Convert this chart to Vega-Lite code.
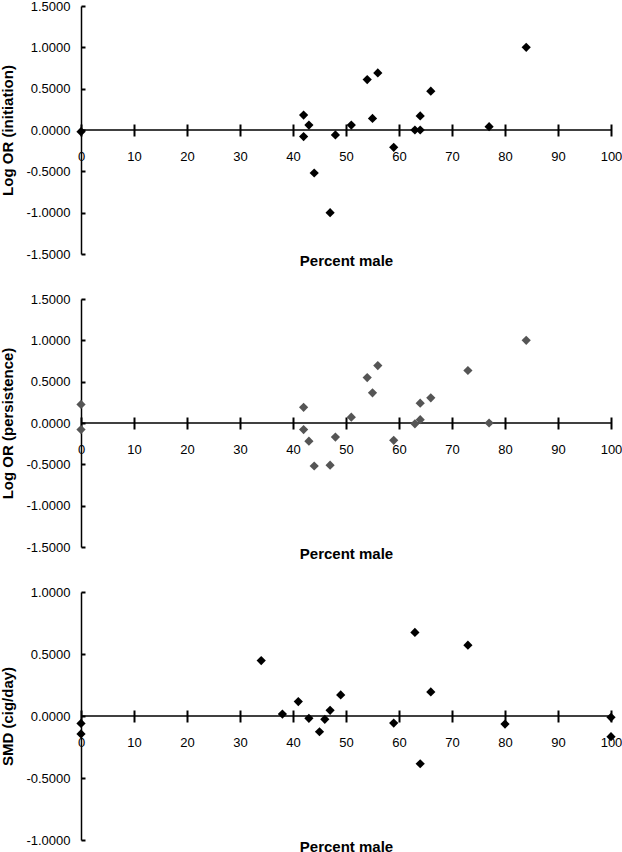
{
  "$schema": "https://vega.github.io/schema/vega-lite/v6.json",
  "padding": {"left": 0, "top": 0, "right": 0, "bottom": 0},
  "background": "white",
  "spacing": 45,
  "bounds": "flush",
  "config": {
    "view": {"stroke": null},
    "font": "Liberation Sans",
    "axis": {
      "labelFont": "Liberation Sans",
      "titleFont": "Liberation Sans",
      "labelFontSize": 13,
      "titleFontSize": 15,
      "titleFontWeight": "bold",
      "labelColor": "black",
      "titleColor": "black",
      "grid": false
    }
  },
  "datasets": {
    "initiation": [
      {"pct": 0, "value": -0.02}, {"pct": 42, "value": 0.18}, {"pct": 42, "value": -0.08},
      {"pct": 43, "value": 0.06}, {"pct": 44, "value": -0.52}, {"pct": 47, "value": -1.0},
      {"pct": 48, "value": -0.06}, {"pct": 51, "value": 0.06}, {"pct": 54, "value": 0.61},
      {"pct": 55, "value": 0.14}, {"pct": 56, "value": 0.69}, {"pct": 59, "value": -0.21},
      {"pct": 63, "value": 0.0}, {"pct": 64, "value": 0.0}, {"pct": 64, "value": 0.17},
      {"pct": 66, "value": 0.47}, {"pct": 77, "value": 0.04}, {"pct": 84, "value": 1.0}
    ],
    "persistence": [
      {"pct": 0, "value": 0.225}, {"pct": 0, "value": -0.08}, {"pct": 42, "value": 0.19},
      {"pct": 42, "value": -0.08}, {"pct": 43, "value": -0.22}, {"pct": 44, "value": -0.52},
      {"pct": 47, "value": -0.51}, {"pct": 48, "value": -0.17}, {"pct": 51, "value": 0.07},
      {"pct": 54, "value": 0.55}, {"pct": 55, "value": 0.365}, {"pct": 56, "value": 0.695},
      {"pct": 59, "value": -0.21}, {"pct": 63, "value": -0.01}, {"pct": 64, "value": 0.04},
      {"pct": 64, "value": 0.24}, {"pct": 66, "value": 0.305}, {"pct": 73, "value": 0.635},
      {"pct": 77, "value": 0.0}, {"pct": 84, "value": 1.0}
    ],
    "smd": [
      {"pct": 0, "value": -0.06}, {"pct": 0, "value": -0.145}, {"pct": 34, "value": 0.447},
      {"pct": 38, "value": 0.016}, {"pct": 41, "value": 0.116}, {"pct": 43, "value": -0.019},
      {"pct": 45, "value": -0.127}, {"pct": 46, "value": -0.027}, {"pct": 47, "value": 0.046},
      {"pct": 49, "value": 0.17}, {"pct": 59, "value": -0.057}, {"pct": 63, "value": 0.674},
      {"pct": 64, "value": -0.385}, {"pct": 66, "value": 0.194}, {"pct": 73, "value": 0.571},
      {"pct": 80, "value": -0.065}, {"pct": 100, "value": -0.011}, {"pct": 100, "value": -0.167}
    ]
  },
  "vconcat": [
    {
      "width": 530,
      "height": 248,
      "layer": [
        {
          "data": {"values": [{}]},
          "mark": {"type": "rule", "color": "black", "strokeWidth": 1.5},
          "encoding": {"y": {"datum": 0, "type": "quantitative"}}
        },
        {
          "data": {"name": "initiation"},
          "mark": {"type": "point", "shape": "diamond", "filled": true, "size": 85, "color": "black", "opacity": 1},
          "encoding": {
            "x": {
              "field": "pct", "type": "quantitative",
              "scale": {"domain": [0, 100], "nice": false},
              "axis": {"values": [0, 10, 20, 30, 40, 50, 60, 70, 80, 90, 100], "title": "Percent male", "offset": -130, "domain": false, "tickColor": "#000000", "tickWidth": 2, "tickSize": 12, "labelPadding": 14, "labelAlign": "center", "titleY": 141, "titleBaseline": "alphabetic"}
            },
            "y": {
              "field": "value", "type": "quantitative",
              "scale": {"domain": [-1.5, 1.5], "nice": false},
              "axis": {"values": [-1.5, -1, -0.5, 0, 0.5, 1, 1.5], "title": "Log OR (initiation)", "domainColor": "black", "domainWidth": 1.5, "tickColor": "#000000", "tickWidth": 2, "tickSize": -4, "labelPadding": 15, "labelBaseline": "middle", "titlePadding": 10, "labelExpr": "replace(format(datum.value, '.4f'), '\u2212', '-')"}
            }
          }
        }
      ]
    },
    {
      "width": 530,
      "height": 248,
      "layer": [
        {
          "data": {"values": [{}]},
          "mark": {"type": "rule", "color": "black", "strokeWidth": 1.5},
          "encoding": {"y": {"datum": 0, "type": "quantitative"}}
        },
        {
          "data": {"name": "persistence"},
          "mark": {"type": "point", "shape": "diamond", "filled": true, "size": 85, "color": "#555555", "opacity": 1},
          "encoding": {
            "x": {
              "field": "pct", "type": "quantitative",
              "scale": {"domain": [0, 100], "nice": false},
              "axis": {"values": [0, 10, 20, 30, 40, 50, 60, 70, 80, 90, 100], "title": "Percent male", "offset": -130, "domain": false, "tickColor": "#000000", "tickWidth": 2, "tickSize": 12, "labelPadding": 14, "labelAlign": "center", "titleY": 141, "titleBaseline": "alphabetic"}
            },
            "y": {
              "field": "value", "type": "quantitative",
              "scale": {"domain": [-1.5, 1.5], "nice": false},
              "axis": {"values": [-1.5, -1, -0.5, 0, 0.5, 1, 1.5], "title": "Log OR (persistence)", "domainColor": "black", "domainWidth": 1.5, "tickColor": "#000000", "tickWidth": 2, "tickSize": -4, "labelPadding": 15, "labelBaseline": "middle", "titlePadding": 10, "labelExpr": "replace(format(datum.value, '.4f'), '\u2212', '-')"}
            }
          }
        }
      ]
    },
    {
      "width": 530,
      "height": 248,
      "layer": [
        {
          "data": {"values": [{}]},
          "mark": {"type": "rule", "color": "black", "strokeWidth": 1.5},
          "encoding": {"y": {"datum": 0, "type": "quantitative"}}
        },
        {
          "data": {"name": "smd"},
          "mark": {"type": "point", "shape": "diamond", "filled": true, "size": 85, "color": "black", "opacity": 1},
          "encoding": {
            "x": {
              "field": "pct", "type": "quantitative",
              "scale": {"domain": [0, 100], "nice": false},
              "axis": {"values": [0, 10, 20, 30, 40, 50, 60, 70, 80, 90, 100], "title": "Percent male", "offset": -130, "domain": false, "tickColor": "#000000", "tickWidth": 2, "tickSize": 12, "labelPadding": 14, "labelAlign": "center", "titleY": 141, "titleBaseline": "alphabetic"}
            },
            "y": {
              "field": "value", "type": "quantitative",
              "scale": {"domain": [-1, 1], "nice": false},
              "axis": {"values": [-1, -0.5, 0, 0.5, 1], "title": "SMD (cig/day)", "domainColor": "black", "domainWidth": 1.5, "tickColor": "#000000", "tickWidth": 2, "tickSize": -4, "labelPadding": 15, "labelBaseline": "middle", "titlePadding": 10, "labelExpr": "replace(format(datum.value, '.4f'), '\u2212', '-')"}
            }
          }
        }
      ]
    }
  ]
}
